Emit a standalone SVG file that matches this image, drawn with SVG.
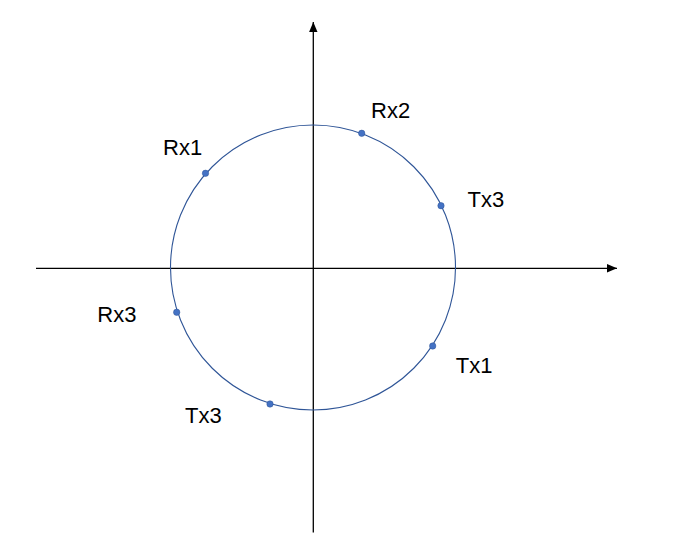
<svg xmlns="http://www.w3.org/2000/svg" width="676" height="557" viewBox="0 0 676 557">
<style>
.axis{stroke:#000;stroke-width:1.3;fill:none}
.circ{stroke:#2F5597;stroke-width:1.1;fill:none}
.dot{fill:#4472C4;stroke:#2F5597;stroke-width:0.5}
.lbl{font-family:"Liberation Sans",Arial,sans-serif;font-size:22px;fill:#000}
</style>
<defs>
<marker id="arr" markerUnits="userSpaceOnUse" markerWidth="12" markerHeight="10" refX="10" refY="5" orient="auto">
<path d="M0,0.8 L10,5 L0,9.2 Z" fill="#000"/>
</marker>
</defs>
<rect width="676" height="557" fill="#fff"/>
<g id="connectors">
<line class="axis" x1="36" y1="268.3" x2="617" y2="268.3" marker-end="url(#arr)"/>
<line class="axis" x1="313.3" y1="532.5" x2="313.3" y2="22" marker-end="url(#arr)"/>
</g>
<g id="circle">
<circle class="circ" cx="313" cy="267.5" r="142.5"/>
</g>
<g id="Rx1"><circle class="dot" cx="205.5" cy="173.3" r="3.2"/><text class="lbl" x="163" y="155">Rx1</text></g>
<g id="Rx2"><circle class="dot" cx="361.7" cy="133.3" r="3.2"/><text class="lbl" x="371" y="117.5">Rx2</text></g>
<g id="Tx3a"><circle class="dot" cx="441" cy="205.7" r="3.2"/><text class="lbl" x="467.5" y="207">Tx3</text></g>
<g id="Rx3"><circle class="dot" cx="176.7" cy="312.3" r="3.2"/><text class="lbl" x="97.3" y="321.7">Rx3</text></g>
<g id="Tx3b"><circle class="dot" cx="270" cy="404" r="3.2"/><text class="lbl" x="185" y="423.3">Tx3</text></g>
<g id="Tx1"><circle class="dot" cx="432.7" cy="346" r="3.2"/><text class="lbl" x="455.7" y="373.3">Tx1</text></g>
</svg>
